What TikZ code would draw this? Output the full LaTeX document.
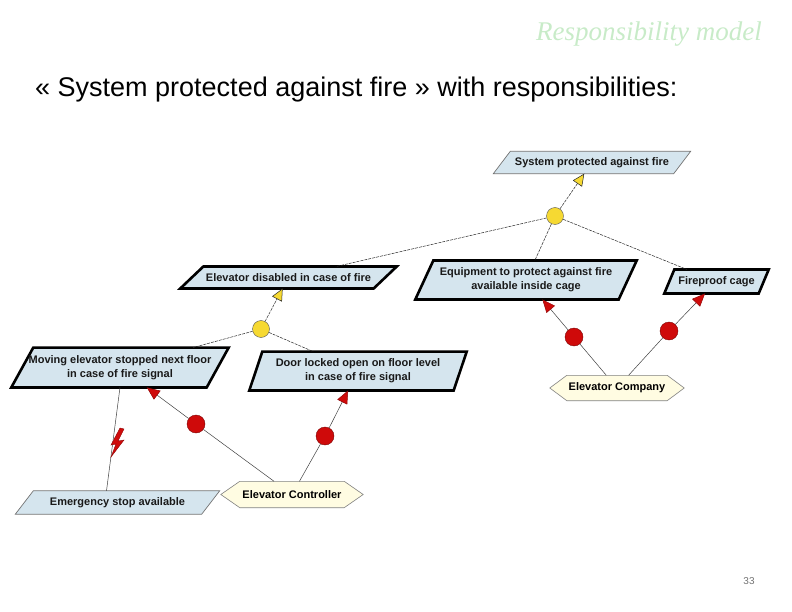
\documentclass[tikz,border=0pt]{standalone}
\usepackage{fontspec}
\setmainfont{Liberation Sans}
\newfontfamily\titlefont{Liberation Serif}
\usetikzlibrary{arrows.meta, backgrounds}

\definecolor{goalblue}{HTML}{D5E5EE}
\definecolor{agentyellow}{HTML}{FFFCE2}
\definecolor{andyellow}{HTML}{F6D932}
\definecolor{respred}{HTML}{CF0A0A}
\definecolor{titlegreen}{HTML}{C8EBC8}

\begin{document}
\begin{tikzpicture}[x = 1pt, y = -1pt,
	goal/.style = {rectangle, inner sep = 0pt, align = center, text = black!90, font = \fontsize{11}{14}\selectfont\bfseries},
	agent/.style = {rectangle, inner sep = 0pt, minimum height = 25pt, font = \fontsize{11}{14}\selectfont\bfseries},
	andnode/.style = {circle, draw = black!65, fill = andyellow, minimum size = 17pt, inner sep = 0pt},
	respnode/.style = {circle, draw = respred!60!black, fill = respred, minimum size = 18pt, inner sep = 0pt},
	refine/.style = {black!85, line width = 0.5pt, dash pattern = on 3pt off 1pt},
	refinearrow/.style = {refine, -{Triangle[length = 12pt, width = 11pt, fill = andyellow]}},
	resp/.style = {black!75, line width = 0.5pt},
	resparrow/.style = {resp, -{Triangle[length = 13pt, width = 11pt, color = respred!70!black, fill = respred]}},
	thinframe/.style = {draw = black!55, line width = 0.7pt, fill = goalblue},
	thickframe/.style = {draw = black, line width = 2.6pt, fill = goalblue},
	agentframe/.style = {draw = black!50, line width = 0.6pt, fill = agentyellow}
	]
	\useasboundingbox (0, 0) rectangle (792, 612);
	
	%	header
	\node[anchor = base east, inner sep = 0pt, text = titlegreen, font = \titlefont\itshape\fontsize{27}{32}\selectfont] (title) at (762, 41) {Responsibility model};
	\node[anchor = base west, inner sep = 0pt, font = \fontsize{27}{32}\selectfont] (subtitle) at (35, 97) {« System protected against fire » with responsibilities:};
	
	%	goals
	\node[goal, minimum width = 197pt, minimum height = 22pt] (sys) at (592, 162.5) {System protected against fire};
	\node[goal, minimum width = 216pt, minimum height = 21.5pt] (eldis) at (288.5, 277.5) {Elevator disabled in case of fire};
	\node[goal, minimum width = 221pt, minimum height = 38.5pt] (equip) at (526, 280) {Equipment to protect against fire\\available inside cage};
	\node[goal, minimum width = 104pt, minimum height = 23.5pt] (fire) at (716.5, 281.5) {Fireproof cage};
	\node[goal, minimum width = 217pt, minimum height = 39.5pt] (moving) at (120, 367.5) {Moving elevator stopped next floor\\in case of fire signal};
	\node[goal, minimum width = 217pt, minimum height = 38.5pt] (door) at (358, 371) {Door locked open on floor level\\in case of fire signal};
	\node[goal, minimum width = 204pt, minimum height = 23pt] (estop) at (117.5, 502.5) {Emergency stop available};
	
	%	agents
	\node[agent, minimum width = 100pt] (company) at (617, 388) {Elevator Company};
	\node[agent, minimum width = 104pt, minimum height = 26pt] (ctrl) at (292, 494.5) {Elevator Controller};
	
	%	frames
	\begin{scope}[on background layer]
		\foreach \n/\o/\f in {sys/17pt/thinframe, eldis/23pt/thickframe, equip/18pt/thickframe, fire/10pt/thickframe, moving/22pt/thickframe, door/13pt/thickframe, estop/18pt/thinframe}
			\draw[\f] (\n.south west) -- ([xshift = -\o]\n.south east) -- (\n.north east) -- ([xshift = \o]\n.north west) -- cycle;
		\foreach \n/\o in {company/17pt, ctrl/19pt}
			\draw[agentframe] ([xshift = -\o]\n.west) -- (\n.north west) -- (\n.north east) -- ([xshift = \o]\n.east) -- (\n.south east) -- (\n.south west) -- cycle;
	\end{scope}
	
	%	refinements
	\node[andnode] (and1) at (555, 216) {};
	\node[andnode] (and2) at (261, 329) {};
	\draw[refinearrow] (and1) -- (sys);
	\foreach \g in {eldis, equip, fire}
		\draw[refine] (and1) -- (\g);
	\draw[refinearrow] (and2) -- (eldis);
	\foreach \g in {moving, door}
		\draw[refine] (and2) -- (\g);
	
	%	responsibilities
	\node[respnode] (r1) at (196, 424) {};
	\node[respnode] (r2) at (325, 436) {};
	\node[respnode] (r3) at (574, 337) {};
	\node[respnode] (r4) at (669, 331) {};
	\foreach \a/\r/\g in {ctrl/r1/moving, ctrl/r2/door, company/r3/equip, company/r4/fire} {
		\draw[resp] (\a) -- (\r);
		\draw[resparrow] (\r) -- (\g);
	}
	
	%	obstruction
	\draw[resp] (moving.south) -- ([xshift = -11pt]estop.north);
	\filldraw[fill = respred, draw = respred!70!black, line width = 0.4pt, shift = {(118, 443)}]
		(2, -15) -- (6, -14) -- (0, -2) -- (6, -3) -- (-7, 14) -- (-2, 1) -- (-7, 2) -- cycle;
	
	%	page number
	\node[text = black!55, font = \fontsize{10}{12}\selectfont] (page) at (749, 581) {33};
\end{tikzpicture}
\end{document}
